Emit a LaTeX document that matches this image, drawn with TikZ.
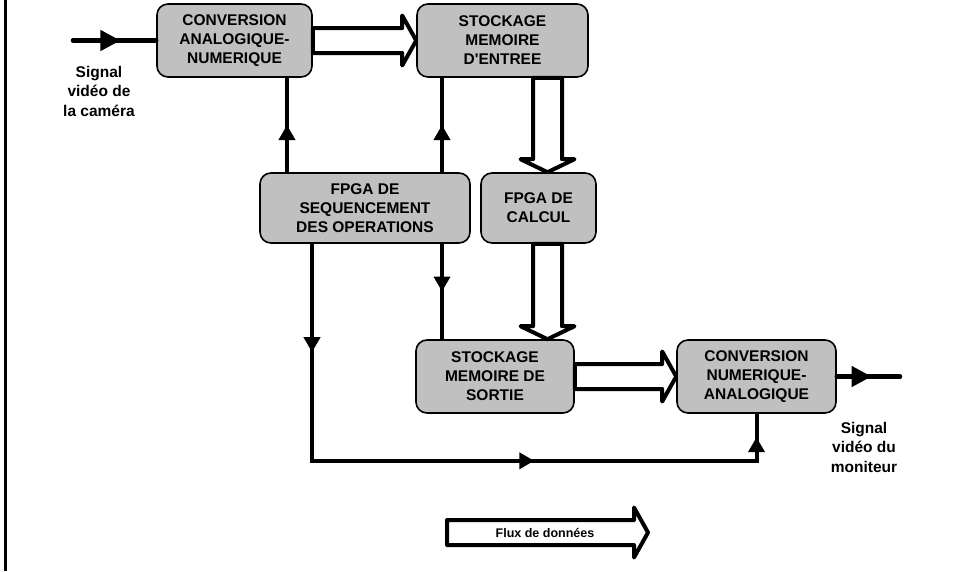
\documentclass[tikz,border=0pt]{standalone}
\usepackage{fontspec}
\setmainfont{Liberation Sans}
\usetikzlibrary{calc,arrows.meta,decorations.markings}
\definecolor{gris}{RGB}{192,192,192}

\newcommand\fluxH[2]{\draw[creux] ($(#1)+(0,-12.5)$) -- ($(#2)+(-14,-12.5)$) -- ($(#2)+(-14,-25)$) -- (#2) -- ($(#2)+(-14,25)$) -- ($(#2)+(-14,12.5)$) -- ($(#1)+(0,12.5)$) -- cycle;}
\newcommand\fluxV[2]{\draw[creux] ($(#1)+(-14.5,0)$) -- ($(#1 |- #2)+(-14.5,-13)$) -- ($(#1 |- #2)+(-27,-13)$) -- (#1 |- #2) -- ($(#1 |- #2)+(27,-13)$) -- ($(#1 |- #2)+(14.5,-13)$) -- ($(#1)+(14.5,0)$) -- cycle;}

\begin{document}
\begin{tikzpicture}[x=1pt,y=-1pt,
	bloc/.style={draw,line width=1.6pt,fill=gris,rounded corners=11pt,inner sep=0pt,align=center,font=\bfseries\fontsize{15.5}{19}\selectfont},
	creux/.style={draw,fill=white,line width=4pt,line join=round},
	fil/.style={line width=4pt},
	milieu/.style={postaction={decorate,decoration={markings,mark=at position #1 with {\arrow{Triangle[length=15pt,width=16pt]}}}}},
	signal/.style={line width=4.5pt,line cap=round,postaction={decorate,decoration={markings,mark=at position #1 with {\arrow{Triangle[length=20pt,width=20pt]}}}}},
	texte/.style={align=center,font=\bfseries\fontsize{15.5}{19.5}\selectfont}]
		\useasboundingbox (0,0) rectangle (963,571);
		\draw[line width=3pt] (5,0) -- (5,571);

		\node[bloc,minimum width=155pt,minimum height=73pt] (can) at (234.5,40.5) {CONVERSION\\ANALOGIQUE-\\NUMERIQUE};
		\node[bloc,minimum width=171pt,minimum height=73pt] (mem) at (502.5,40.5) {STOCKAGE\\MEMOIRE\\D\textquotesingle ENTREE};
		\node[bloc,minimum width=210pt,minimum height=70pt] (seq) at (365,208) {FPGA DE\\SEQUENCEMENT\\DES OPERATIONS};
		\node[bloc,minimum width=115pt,minimum height=70pt] (cal) at (538.5,208) {FPGA DE\\CALCUL};
		\node[bloc,minimum width=158pt,minimum height=73pt] (sor) at (495,376.5) {STOCKAGE\\MEMOIRE DE\\SORTIE};
		\node[bloc,minimum width=159pt,minimum height=73pt] (cna) at (756.5,376.5) {CONVERSION\\NUMERIQUE-\\ANALOGIQUE};

		\node[texte] (cam) at (99,91) {Signal\\vidéo de\\la caméra};
		\node[texte] (mon) at (864,447) {Signal\\vidéo du\\moniteur};

		\coordinate (entree) at (73,40.5);
		\coordinate (sortie) at (900,376.5);
		\draw[signal=.57] (entree) -- (can.west);
		\draw[signal=.55] (cna.east) -- (sortie);

		\coordinate (s1) at ($(seq.north)+(-78,0)$);
		\coordinate (s2) at ($(seq.north)+(77,0)$);
		\coordinate (s3) at ($(seq.south)+(77,0)$);
		\coordinate (s4) at ($(seq.south)+(-53,0)$);
		\draw[fil,milieu=.5] (s1) -- (s1 |- can.south);
		\draw[fil,milieu=.5] (s2) -- (s2 |- mem.south);
		\draw[fil,milieu=.5] (s3) -- (s3 |- sor.north);
		\draw[fil,milieu=.153,milieu=.62,milieu=.967] (s4) -- ++(0,217) -| (cna.south);

		\coordinate (d1) at ($(mem.south)+(45,0)$);
		\coordinate (d2) at ($(cal.south)+(9,0)$);
		\fluxH{can.east}{mem.west}
		\fluxH{sor.east}{cna.west}
		\fluxV{d1}{cal.north}
		\fluxV{d2}{sor.north}

		\coordinate (l1) at (447,532.5);
		\coordinate (l2) at (648,532.5);
		\fluxH{l1}{l2}
		\node[font=\bfseries\fontsize{12.5}{14}\selectfont] (flux) at (545,532.5) {Flux de données};
	\end{tikzpicture}
\end{document}
